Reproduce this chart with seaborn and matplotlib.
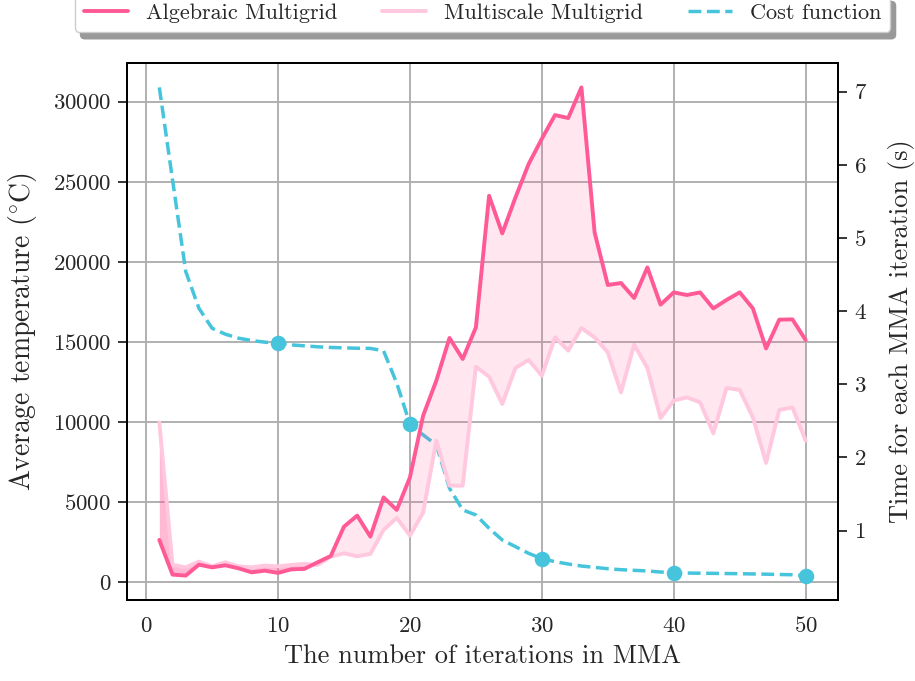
import numpy as np
import pandas as pd
import matplotlib
matplotlib.use("Agg")
import matplotlib.pyplot as plt
import seaborn as sns

# ---- data ----
iterations = list(range(1, 51))

amg_time = [0.873, 0.399, 0.385, 0.535, 0.498, 0.526, 0.485, 0.430, 0.453, 0.422,
            0.471, 0.477, 0.567, 0.654, 1.055, 1.205, 0.918, 1.455, 1.283, 1.728,
            2.572, 3.050, 3.634, 3.347, 3.778, 5.578, 5.063, 5.555, 6.012, 6.357,
            6.681, 6.640, 7.059, 5.077, 4.358, 4.385, 4.180, 4.598, 4.089, 4.257,
            4.221, 4.257, 4.038, 4.153, 4.257, 4.038, 3.491, 3.884, 3.888, 3.606]

msmg_time = [2.480, 0.535, 0.498, 0.576, 0.512, 0.567, 0.512, 0.498, 0.522, 0.512,
             0.531, 0.545, 0.531, 0.645, 0.690, 0.649, 0.682, 1.010, 1.174, 0.932,
             1.246, 2.230, 1.615, 1.615, 3.241, 3.105, 2.732, 3.224, 3.333, 3.118,
             3.642, 3.460, 3.770, 3.642, 3.437, 2.890, 3.542, 3.224, 2.540, 2.777,
             2.822, 2.753, 2.330, 2.950, 2.923, 2.548, 1.925, 2.650, 2.685, 2.230]

cost = [30890, 25130, 19400, 17100, 15850, 15480, 15230, 15080, 14980, 14920,
        14810, 14750, 14690, 14650, 14625, 14600, 14590, 14440, 12420, 9855,
        9190, 8560, 5855, 4500, 4190, 3355, 2625, 2210, 1790, 1460,
        1270, 1125, 1000, 915, 830, 770, 730, 690, 625, 580,
        560, 550, 540, 530, 520, 505, 490, 470, 455, 400]

left_ticks = [0, 5000, 10000, 15000, 20000, 25000, 30000]
right_ticks = [1, 2, 3, 4, 5, 6, 7]
x_ticks = [0, 10, 20, 30, 40, 50]

df = pd.DataFrame({"iter": iterations, "amg": amg_time, "msmg": msmg_time, "cost": cost})
marked = df[df["iter"] % 10 == 0]

# ---- style ----
sns.set_style("white")
plt.rcParams["font.family"] = ["cmr10", "DejaVu Serif"]
plt.rcParams["mathtext.fontset"] = "cm"
plt.rcParams["axes.formatter.use_mathtext"] = True
plt.rcParams["axes.unicode_minus"] = False

C_AMG = "#FF5A96"
C_MSMG = "#FFC8DE"
C_COST = "#45C4DC"

fig = plt.figure(figsize=(9.15, 6.81), dpi=100)
ax1 = fig.add_axes([0.1388, 0.1189, 0.7770, 0.7886])
ax2 = ax1.twinx()

# cost function on left axis
sns.lineplot(data=df, x="iter", y="cost", ax=ax1, color=C_COST, lw=2.5,
             linestyle="--", label="Cost function", legend=False, zorder=3)
sns.scatterplot(data=marked, x="iter", y="cost", ax=ax1, color=C_COST, s=125,
                edgecolor=C_COST, linewidth=0, legend=False, zorder=4)

# times on right axis
x = df["iter"].to_numpy()
a = df["amg"].to_numpy()
m = df["msmg"].to_numpy()
ax2.fill_between(x, a, m, where=a >= m, interpolate=True, color=C_AMG, alpha=0.15, lw=0)
ax2.fill_between(x, a, m, where=m > a, interpolate=True, color=C_AMG, alpha=0.42, lw=0)
sns.lineplot(data=df, x="iter", y="msmg", ax=ax2, color=C_MSMG, lw=2.8,
             label="Multiscale Multigrid", legend=False)
sns.lineplot(data=df, x="iter", y="amg", ax=ax2, color=C_AMG, lw=2.8,
             label="Algebraic Multigrid", legend=False)

# axes formatting
ax1.set_xticks(x_ticks)
ax1.set_yticks(left_ticks)
ax2.set_yticks(right_ticks)
ax1.set_xlabel("The number of iterations in MMA", fontsize=19, labelpad=6)
ax1.set_ylabel(r"Average temperature ($^{\circ}$C)", fontsize=20, labelpad=10)
ax2.set_ylabel("Time for each MMA iteration (s)", fontsize=19, labelpad=15)
ax1.tick_params(axis="both", labelsize=16.5, direction="out", length=6.5, width=1.3, pad=5)
ax2.tick_params(axis="y", labelsize=16.5, direction="out", length=6.5, width=1.3, pad=5)
ax1.grid(True, color="#b0b0b0", lw=1.4)
ax2.grid(False)
for ax in (ax1, ax2):
    for sp in ax.spines.values():
        sp.set_color("black")
        sp.set_linewidth(1.4)

h1, l1 = ax1.get_legend_handles_labels()
h2, l2 = ax2.get_legend_handles_labels()
handles = h2[::-1] + h1
labels = l2[::-1] + l1
ax1.legend(handles, labels, loc="lower center", bbox_to_anchor=(0.5, 1.058),
           ncol=3, fontsize=16, frameon=True, fancybox=True,
           shadow={"ox": 4, "oy": -5, "facecolor": "#999999", "edgecolor": "#999999", "alpha": 1},
           handlelength=2.0, columnspacing=2.0, borderaxespad=0)

fig.savefig("out.png", dpi=100)
